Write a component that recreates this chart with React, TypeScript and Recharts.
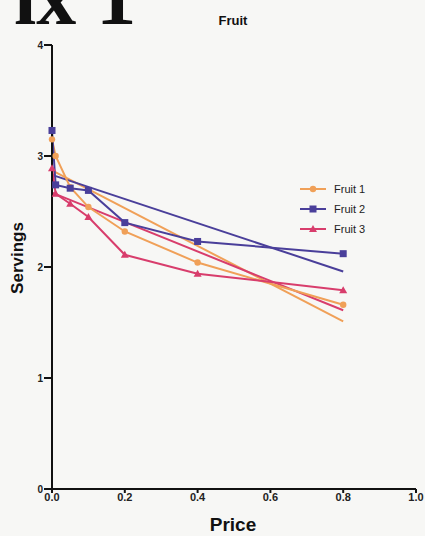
import { LineChart, Line, XAxis, YAxis } from 'recharts'

const prices = [0, 0.01, 0.05, 0.1, 0.2, 0.4, 0.8]
const fruit1 = [3.15, 3.0, 2.72, 2.54, 2.32, 2.04, 1.66]
const fruit2 = [3.23, 2.74, 2.71, 2.69, 2.4, 2.23, 2.12]
const fruit3 = [2.89, 2.66, 2.57, 2.45, 2.11, 1.94, 1.79]

// straight fit lines, drawn from first to last price
const trendPrices = [0, 0.8]
const trend1 = [2.87, 1.51]
const trend2 = [2.83, 1.96]
const trend3 = [2.67, 1.61]

const xTicks = [0, 0.2, 0.4, 0.6, 0.8, 1.0]
const yTicks = [0, 1, 2, 3, 4]

const series = [
  { key: 'fruit1', name: 'Fruit 1', color: '#F0A058', marker: 'circle' },
  { key: 'fruit2', name: 'Fruit 2', color: '#4A3F9A', marker: 'square' },
  { key: 'fruit3', name: 'Fruit 3', color: '#D83D6C', marker: 'triangle' }
]

const data = prices.map((p, i) => {
  const t = trendPrices.indexOf(p)
  return {
    price: p,
    fruit1: fruit1[i],
    fruit2: fruit2[i],
    fruit3: fruit3[i],
    trend1: t >= 0 ? trend1[t] : null,
    trend2: t >= 0 ? trend2[t] : null,
    trend3: t >= 0 ? trend3[t] : null
  }
})

const Marker = ({ cx, cy, color, type }: any) => {
  if (cx == null || cy == null) return null
  if (type === 'square') {
    return <rect x={cx - 3.5} y={cy - 3.5} width={7} height={7} fill={color} />
  }
  if (type === 'triangle') {
    return <polygon points={`${cx},${cy - 4} ${cx - 4},${cy + 3} ${cx + 4},${cy + 3}`} fill={color} />
  }
  return <circle cx={cx} cy={cy} r={3.2} fill={color} />
}

const sans = 'Liberation Sans, Arial, sans-serif'

const LegendBox = () => (
  <div style={{ position: 'absolute', left: 300, top: 179, fontFamily: sans, fontSize: 11 }}>
    {series.map(s => (
      <div key={s.key} style={{ display: 'flex', alignItems: 'center', height: 20 }}>
        <svg width={26} height={10} style={{ marginRight: 8 }}>
          <line x1={0} y1={5} x2={26} y2={5} stroke={s.color} strokeWidth={2} />
          <Marker cx={13} cy={5} color={s.color} type={s.marker} />
        </svg>
        <span style={{ color: '#222' }}>{s.name}</span>
      </div>
    ))}
  </div>
)

export default function App() {
  return (
    <div style={{ position: 'absolute', left: 0, top: 0, width: 425, height: 536, background: '#F7F7F5', overflow: 'hidden' }}>
      {/* page heading, cut off by the scan */}
      <div style={{ position: 'absolute', left: 0, top: 0, width: 160, height: 28, overflow: 'hidden' }}>
        <div style={{
          position: 'absolute', left: 14, top: -43, fontFamily: 'Liberation Serif, serif',
          fontWeight: 'bold', fontSize: 80, lineHeight: '80px', color: '#111', whiteSpace: 'pre'
        }}>ix 1</div>
      </div>

      <div style={{ position: 'absolute', left: 183, width: 100, top: 13, textAlign: 'center', fontFamily: sans, fontWeight: 'bold', fontSize: 13, color: '#111' }}>
        Fruit
      </div>

      <div style={{
        position: 'absolute', left: 18, top: 258, transform: 'translate(-50%, -50%) rotate(-90deg)',
        fontFamily: sans, fontWeight: 'bold', fontSize: 17, color: '#111', whiteSpace: 'nowrap'
      }}>Servings</div>

      <div style={{ position: 'absolute', left: 183, width: 100, top: 514, textAlign: 'center', fontFamily: sans, fontWeight: 'bold', fontSize: 19, color: '#111' }}>
        Price
      </div>

      <LineChart width={425} height={536} data={data} margin={{ top: 45, right: 9, bottom: 17, left: 2 }}>
        <XAxis
          dataKey="price"
          type="number"
          domain={[0, 1]}
          ticks={xTicks}
          tickFormatter={(v: number) => v.toFixed(1)}
          stroke="#111"
          strokeWidth={2}
          tickSize={4}
          tickMargin={0}
          height={30}
          tick={{ fill: '#222', fontSize: 11, fontWeight: 'bold', fontFamily: sans }}
        />
        <YAxis
          type="number"
          domain={[0, 4]}
          ticks={yTicks}
          stroke="#111"
          strokeWidth={2}
          tickSize={8}
          tickMargin={1}
          width={50}
          tick={{ fill: '#222', fontSize: 10, fontWeight: 'bold', fontFamily: sans }}
        />

        {/* Fit lines */}
        {series.map((s, i) => (
          <Line
            key={'t' + s.key}
            dataKey={'trend' + (i + 1)}
            stroke={s.color}
            strokeWidth={2}
            dot={false}
            connectNulls
            legendType="none"
            isAnimationActive={false}
          />
        ))}

        {/* Data lines */}
        {series.map(s => (
          <Line
            key={s.key}
            dataKey={s.key}
            name={s.name}
            type="linear"
            stroke={s.color}
            strokeWidth={2}
            dot={(props: any) => <Marker key={props.index} cx={props.cx} cy={props.cy} color={s.color} type={s.marker} />}
            activeDot={false}
            isAnimationActive={false}
          />
        ))}
      </LineChart>

      <LegendBox />
    </div>
  )
}
